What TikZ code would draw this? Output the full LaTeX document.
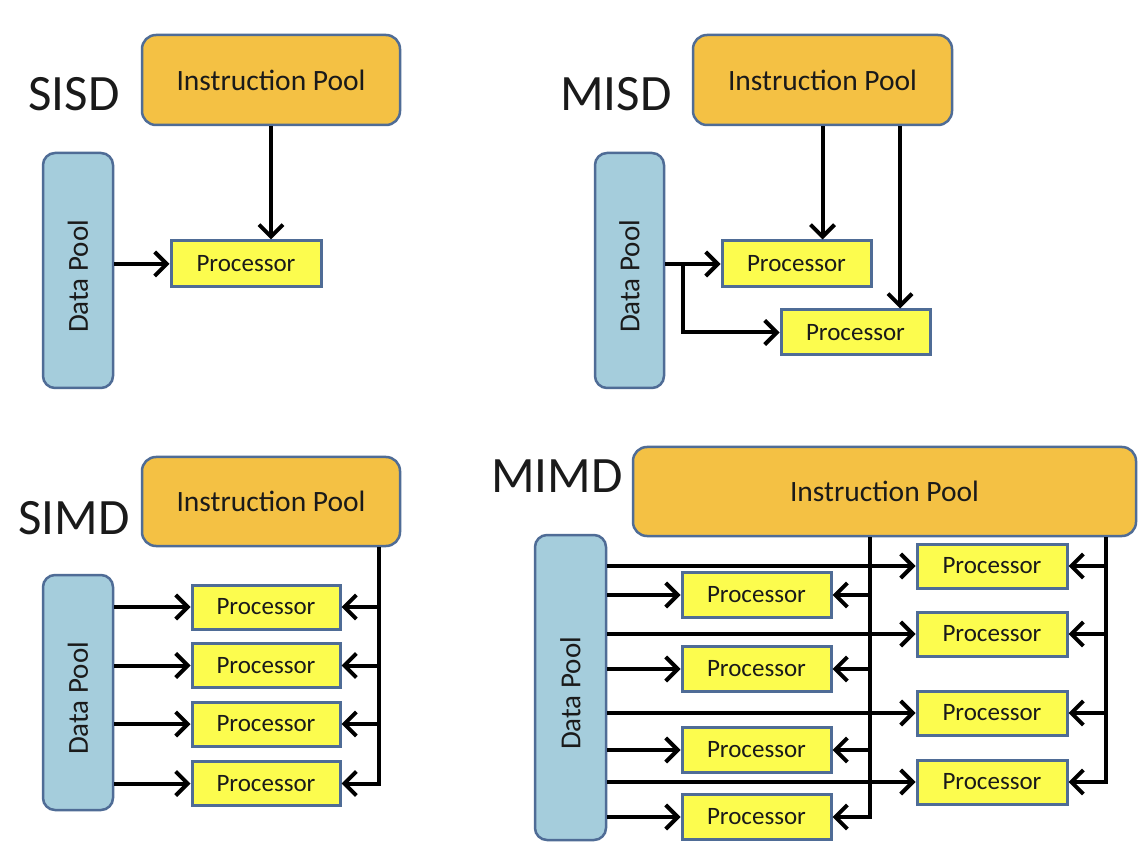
\documentclass[tikz,border=0pt]{standalone}
\usepackage{fontspec}
\setmainfont{Carlito}
\usetikzlibrary{arrows.meta}
\definecolor{ipfill}{HTML}{F4C144}
\definecolor{dpfill}{HTML}{A5CDDC}
\definecolor{procfill}{HTML}{FCFC4E}
\definecolor{bordc}{HTML}{4F6C96}
\definecolor{txtc}{HTML}{1A1A1A}
\begin{document}
\begin{tikzpicture}[x=1pt,y=-1pt,
  ip/.style={draw=bordc, line width=2.5pt, fill=ipfill, rounded corners=14pt, inner sep=0pt, text=txtc, font=\fontsize{29.5}{31}\selectfont},
  dp/.style={draw=bordc, line width=2.5pt, fill=dpfill, rounded corners=12pt, inner sep=0pt},
  dptext/.style={rotate=90, inner sep=0pt, text=txtc, font=\fontsize{29}{31}\selectfont},
  proc/.style={draw=bordc, line width=3pt, fill=procfill, inner sep=0pt, text=txtc, font=\fontsize{25}{27}\selectfont},
  ttl/.style={inner sep=0pt, text=txtc, font=\fontsize{51}{55}\selectfont},
  conn/.style={line width=4pt, -{Straight Barb[length=12pt,width=24pt]}},
  wire/.style={line width=4pt}
]
\useasboundingbox[fill=white] (0,0) rectangle (1144,866);

% ================= SISD =================
\node[ttl] (t1) at (74,94) {SISD};
\node[ip, minimum width=258pt, minimum height=90pt] (ip1) at (271,80) {Instruction Pool};
\node[dp, minimum width=70pt, minimum height=235pt] (dp1) at (78,270.5) {};
\node[dptext] (dt1) at ([yshift=-6pt]dp1.center) {Data Pool};
\node[proc, minimum width=150pt, minimum height=46pt] (p1) at (246,264) {Processor};
\draw[conn] (ip1.south) -- (ip1.south |- p1.north);
\draw[conn] (dp1.east |- p1.west) -- (p1.west);

% ================= MISD =================
\node[ttl] (t2) at (616,94) {MISD};
\node[ip, minimum width=259pt, minimum height=90pt] (ip2) at (822.5,80) {Instruction Pool};
\node[dp, minimum width=69pt, minimum height=235pt] (dp2) at (629.5,270.5) {};
\node[dptext] (dt2) at ([yshift=-6pt]dp2.center) {Data Pool};
\node[proc, minimum width=149pt, minimum height=46pt] (p2a) at (796.5,264) {Processor};
\node[proc, minimum width=149pt, minimum height=45pt] (p2b) at (855.5,332.5) {Processor};
\coordinate (c2) at (900,0);
\coordinate (b2) at (683,0);
\draw[conn] (ip2.south) -- (ip2.south |- p2a.north);
\draw[conn] (c2 |- ip2.south) -- (c2 |- p2b.north);
\draw[conn] (dp2.east |- p2a.west) -- (p2a.west);
\draw[conn] (b2 |- p2a.west) -- (b2 |- p2b.west) -- (p2b.west);

% ================= SIMD =================
\node[ttl] (t3) at (74,518) {SIMD};
\node[ip, minimum width=258pt, minimum height=89pt] (ip3) at (271,501.5) {Instruction Pool};
\node[dp, minimum width=70pt, minimum height=235pt] (dp3) at (78,692.5) {};
\node[dptext] (dt3) at ([yshift=-6pt]dp3.center) {Data Pool};
\foreach \n/\yy in {a/607,b/665.5,c/724,d/783.5}{
  \node[proc, minimum width=148pt, minimum height=44pt] (p3\n) at (266,\yy) {Processor};
}
\coordinate (v3) at (379,0);
\foreach \n in {a,b,c,d}{
  \draw[conn] (dp3.east |- p3\n.west) -- (p3\n.west);
}
\foreach \n in {a,b,c}{
  \draw[conn] (v3 |- p3\n.east) -- (p3\n.east);
}
\draw[conn] (v3 |- ip3.south) -- (v3 |- p3d.east) -- (p3d.east);

% ================= MIMD =================
\node[ttl] (t4) at (557,476) {MIMD};
\node[ip, minimum width=503pt, minimum height=89pt] (ip4) at (884.5,491.5) {Instruction Pool};
\node[dp, minimum width=71pt, minimum height=305pt] (dp4) at (570.5,687.5) {};
\node[dptext] (dt4) at ([yshift=-6pt]dp4.center) {Data Pool};
\foreach \n/\yy in {a/595,b/669,c/750,d/817}{
  \node[proc, minimum width=149pt, minimum height=45pt] (l4\n) at (756.5,\yy) {Processor};
}
\foreach \n/\yy in {a/566,b/634,c/713,d/782}{
  \node[proc, minimum width=150pt, minimum height=44pt] (r4\n) at (992,\yy) {Processor};
}
\coordinate (va) at (870,0);
\coordinate (vb) at (1106,0);
\foreach \n in {a,b,c,d}{
  \draw[conn] (dp4.east |- r4\n.west) -- (r4\n.west);
  \draw[conn] (dp4.east |- l4\n.west) -- (l4\n.west);
}
\foreach \n in {a,b,c}{
  \draw[conn] (va |- l4\n.east) -- (l4\n.east);
  \draw[conn] (vb |- r4\n.east) -- (r4\n.east);
}
\draw[conn] (va |- ip4.south) -- (va |- l4d.east) -- (l4d.east);
\draw[conn] (vb |- ip4.south) -- (vb |- r4d.east) -- (r4d.east);
\end{tikzpicture}
\end{document}
